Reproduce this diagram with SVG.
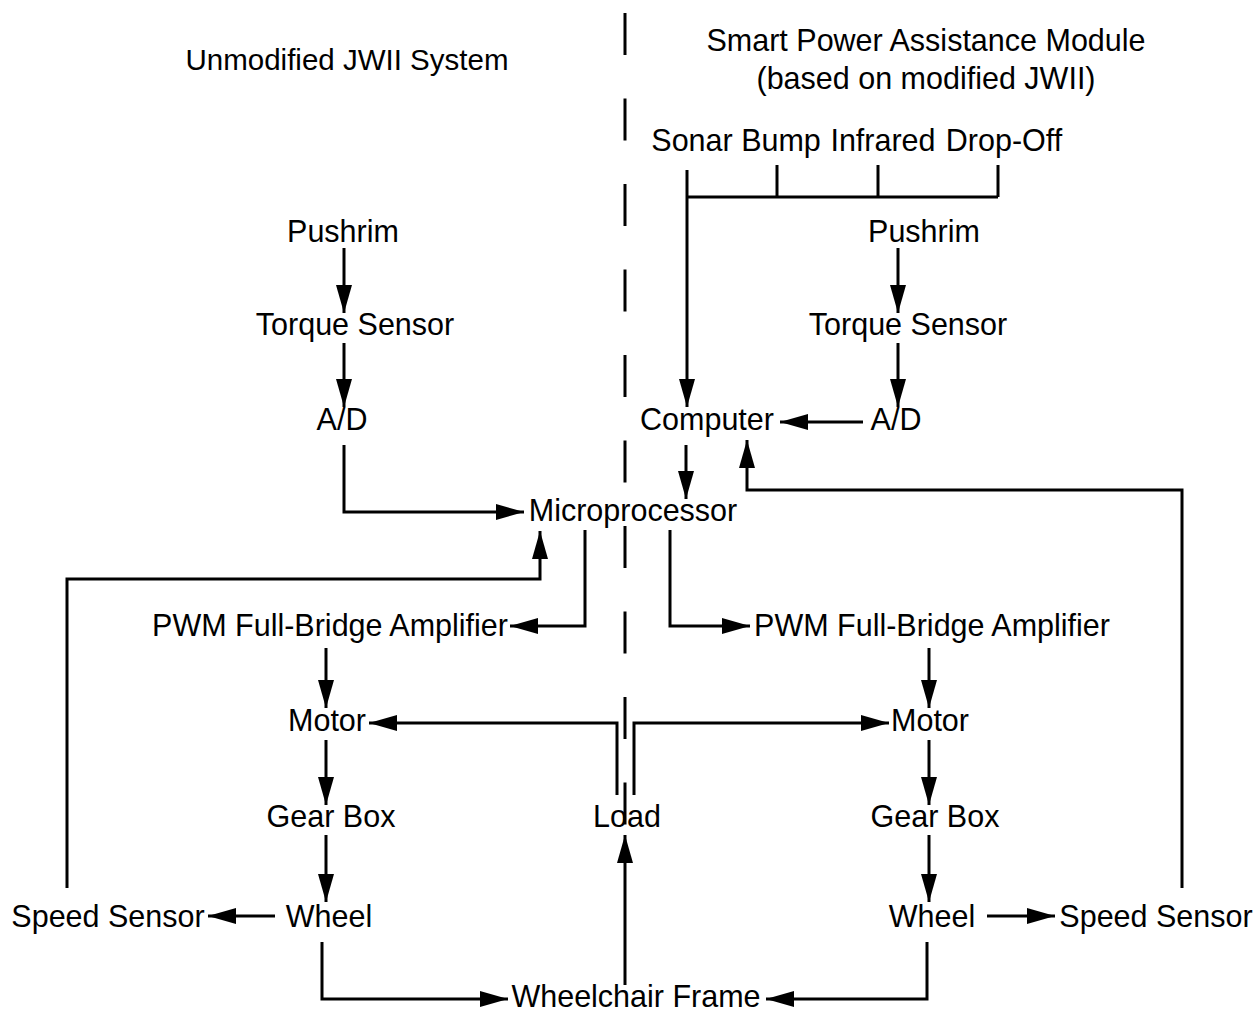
<svg xmlns="http://www.w3.org/2000/svg" width="1258" height="1013" viewBox="0 0 1258 1013">
<defs>
<marker id="ah" markerUnits="userSpaceOnUse" markerWidth="28" markerHeight="16" refX="28" refY="8" orient="auto">
<path d="M0,0 L28,8 L0,16 z" fill="#000"/>
</marker>
<style>
text{font-family:"Liberation Sans",Arial,sans-serif;font-size:30.5px;fill:#000;text-anchor:middle}
.t{font-size:29.5px}
.c{fill:none;stroke:#000;stroke-width:3}
.a{marker-end:url(#ah)}
.d{fill:none;stroke:#000;stroke-width:3;stroke-dasharray:42 43.5}
</style>
</defs>
<rect width="1258" height="1013" fill="#fff"/>
<g id="divider"><line class="d" x1="625" y1="13" x2="625" y2="825"/></g>
<g id="connectors">
<polyline class="c a" points="687,170 687,407"/>
<polyline class="c" points="687,197 998,197"/>
<polyline class="c" points="777,165 777,197"/>
<polyline class="c" points="878,165 878,197"/>
<polyline class="c" points="998,165 998,197"/>
<polyline class="c a" points="344,248 344,313"/>
<polyline class="c a" points="344,343 344,407"/>
<polyline class="c a" points="344,445 344,512 524,512"/>
<polyline class="c a" points="67,888 67,579 540,579 540,531"/>
<polyline class="c a" points="585,530 585,626 510,626"/>
<polyline class="c a" points="670,530 670,626 750,626"/>
<polyline class="c a" points="686,445 686,499"/>
<polyline class="c a" points="898,248 898,313"/>
<polyline class="c a" points="898,343 898,407"/>
<polyline class="c a" points="863,422 780,422"/>
<polyline class="c a" points="1182,888 1182,490 747,490 747,440"/>
<polyline class="c a" points="326,648 326,708"/>
<polyline class="c a" points="326,740 326,805"/>
<polyline class="c a" points="326,835 326,902"/>
<polyline class="c a" points="929,648 929,708"/>
<polyline class="c a" points="929,740 929,805"/>
<polyline class="c a" points="929,835 929,902"/>
<polyline class="c a" points="275,916 208,916"/>
<polyline class="c a" points="987,916 1055,916"/>
<polyline class="c a" points="322,942 322,999 508,999"/>
<polyline class="c a" points="927,942 927,999 766,999"/>
<polyline class="c a" points="625,985 625,835"/>
<polyline class="c a" points="617,795 617,723 369,723"/>
<polyline class="c a" points="634,795 634,723 889,723"/>
</g>
<g id="title-left"><text class="t" x="347" y="70">Unmodified JWII System</text></g>
<g id="title-right"><text x="926" y="51">Smart Power Assistance Module</text><text x="926" y="89">(based on modified JWII)</text></g>
<g id="sonar"><text x="692" y="151">Sonar</text></g>
<g id="bump"><text x="781" y="151">Bump</text></g>
<g id="infrared"><text x="883" y="151">Infrared</text></g>
<g id="dropoff"><text x="1004" y="151">Drop-Off</text></g>
<g id="pushrim-l"><text x="343" y="242">Pushrim</text></g>
<g id="torque-l"><text x="355" y="335">Torque Sensor</text></g>
<g id="ad-l"><text x="342" y="430">A/D</text></g>
<g id="pushrim-r"><text x="924" y="242">Pushrim</text></g>
<g id="torque-r"><text x="908" y="335">Torque Sensor</text></g>
<g id="ad-r"><text x="896" y="430">A/D</text></g>
<g id="computer"><text x="707" y="430">Computer</text></g>
<g id="microprocessor"><text x="633" y="521">Microprocessor</text></g>
<g id="pwm-l"><text x="330" y="636">PWM Full-Bridge Amplifier</text></g>
<g id="pwm-r"><text x="932" y="636">PWM Full-Bridge Amplifier</text></g>
<g id="motor-l"><text x="327" y="731">Motor</text></g>
<g id="motor-r"><text x="930" y="731">Motor</text></g>
<g id="gearbox-l"><text x="331" y="827">Gear Box</text></g>
<g id="gearbox-r"><text x="935" y="827">Gear Box</text></g>
<g id="load"><text x="627" y="827">Load</text></g>
<g id="wheel-l"><text x="329" y="927">Wheel</text></g>
<g id="wheel-r"><text x="932" y="927">Wheel</text></g>
<g id="speed-l"><text x="108" y="927">Speed Sensor</text></g>
<g id="speed-r"><text x="1156" y="927">Speed Sensor</text></g>
<g id="frame"><text x="636" y="1007">Wheelchair Frame</text></g>
</svg>
